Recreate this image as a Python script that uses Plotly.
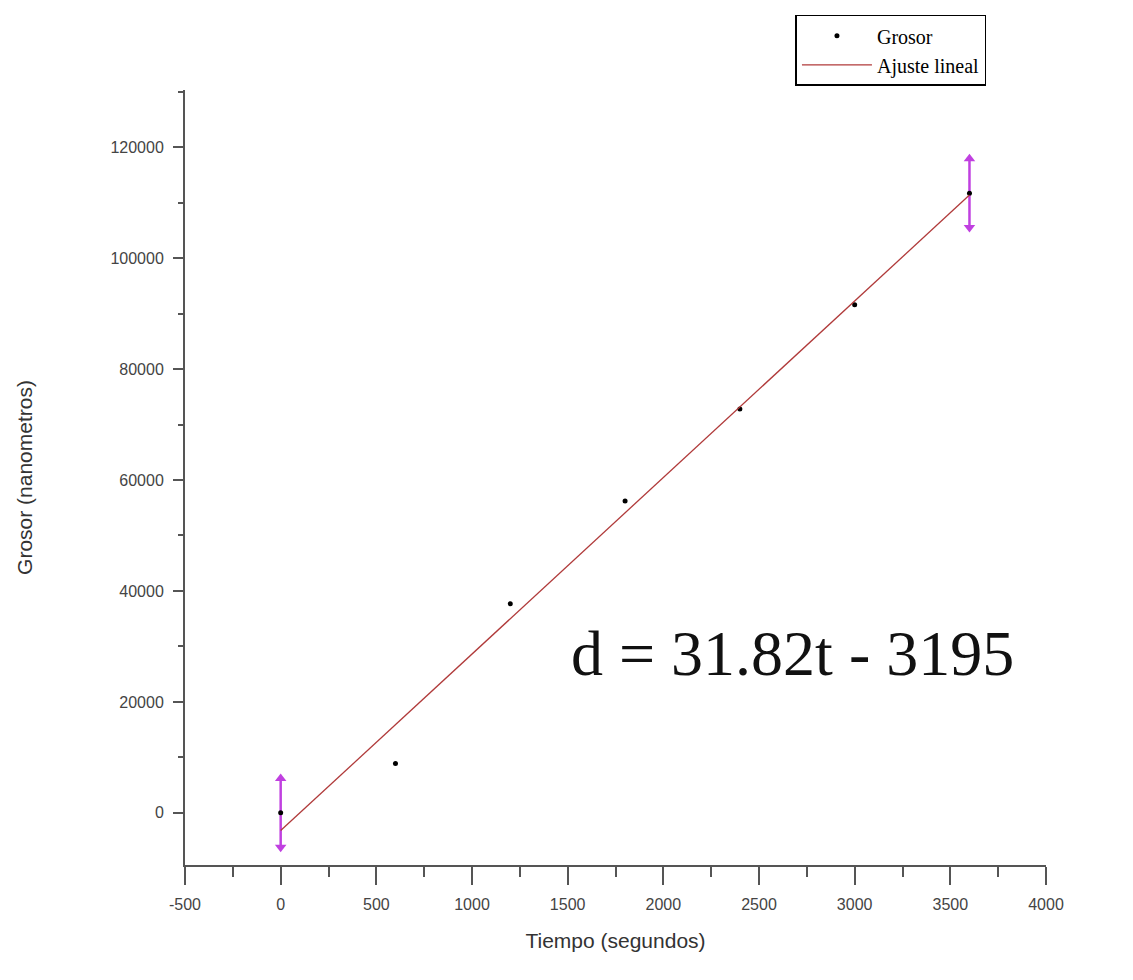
import plotly.graph_objects as go

# Data
tiempo = [0, 600, 1200, 1800, 2400, 3000, 3600]
grosor = [0, 8900, 37700, 56200, 72800, 91600, 111700]
err_t = [0, 3600]
err_y = [0, 111700]
err_val = [6200, 6200]
pendiente = 31.82
intercepto = -3195
fit_t = [0, 3600]
fit_y = [pendiente * t + intercepto for t in fit_t]

x_ticks = [-500, 0, 500, 1000, 1500, 2000, 2500, 3000, 3500, 4000]
x_labels = ["-500", "0", "500", "1000", "1500", "2000", "2500", "3000", "3500", "4000"]
y_ticks = [0, 20000, 40000, 60000, 80000, 100000, 120000]
y_labels = ["0", "20000", "40000", "60000", "80000", "100000", "120000"]

fig = go.Figure()

# error bars (magenta) at ends
fig.add_trace(go.Scatter(
    x=err_t, y=err_y, mode="markers",
    marker=dict(size=1, color="rgba(0,0,0,0)"),
    error_y=dict(type="data", array=err_val, color="#c040e0", thickness=2.5, width=0),
    showlegend=False, hoverinfo="skip"))
fig.add_trace(go.Scatter(
    x=err_t, y=[y + e for y, e in zip(err_y, err_val)], mode="markers",
    marker=dict(symbol="triangle-up", size=10, color="#c040e0"),
    showlegend=False, hoverinfo="skip"))
fig.add_trace(go.Scatter(
    x=err_t, y=[y - e for y, e in zip(err_y, err_val)], mode="markers",
    marker=dict(symbol="triangle-down", size=10, color="#c040e0"),
    showlegend=False, hoverinfo="skip"))

fig.add_trace(go.Scatter(
    x=tiempo, y=grosor, mode="markers", name="Grosor",
    marker=dict(size=5, color="black")))
fig.add_trace(go.Scatter(
    x=fit_t, y=fit_y, mode="lines", name="Ajuste lineal",
    line=dict(color="#b03a3a", width=1.3)))

fig.add_annotation(
    x=0.705, y=0.273, xref="paper", yref="paper",
    xanchor="center", yanchor="middle",
    text="d = 31.82t - 3195", showarrow=False,
    font=dict(family="Liberation Serif", size=64, color="#111"))

axis_common = dict(
    showline=True, linecolor="#555", linewidth=2,
    ticks="outside", tickcolor="#555", tickwidth=2,
    showgrid=False, zeroline=False,
    tickfont=dict(family="Liberation Sans", size=16, color="#444"),
)

fig.update_layout(
    width=1133, height=980,
    margin=dict(l=185, r=87, t=90, b=115, autoexpand=False),
    plot_bgcolor="white", paper_bgcolor="white",
    xaxis=dict(range=[-500, 4000], tickvals=x_ticks, ticktext=x_labels, ticklen=18,
               ticklabelstandoff=6,
               minor=dict(dtick=250, ticks="outside", ticklen=10, tickcolor="#555", tickwidth=2),
               title=dict(text="Tiempo (segundos)", font=dict(family="Liberation Sans", size=21, color="#333"), standoff=21),
               **axis_common),
    yaxis=dict(range=[-9400, 130300], tickvals=y_ticks, ticklen=10, ticktext=y_labels,
               ticklabelstandoff=6,
               minor=dict(dtick=10000, ticks="outside", ticklen=5, tickcolor="#555", tickwidth=2),
               title=dict(text="Grosor (nanometros)", font=dict(family="Liberation Sans", size=21, color="#333"), standoff=72),
               **axis_common),
    legend=dict(x=0.709, y=1.097, xanchor="left", yanchor="top",
                bordercolor="black", borderwidth=1.5, bgcolor="white",
                font=dict(family="Liberation Serif", size=20, color="black"),
                tracegroupgap=0, itemwidth=70),
    showlegend=True,
)

fig.write_html("out.html")
